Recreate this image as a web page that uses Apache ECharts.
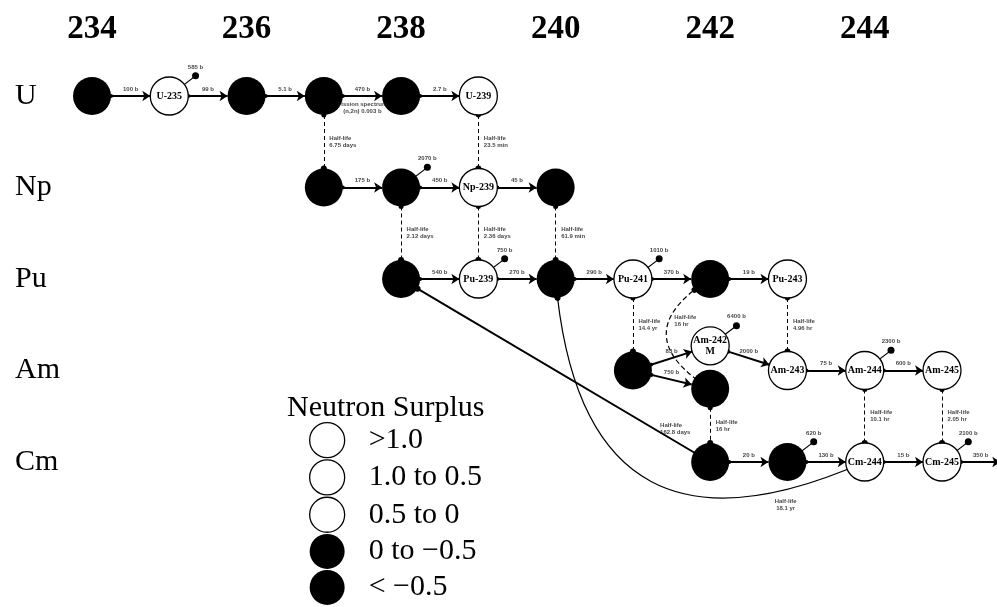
<!DOCTYPE html>
<html>
<head>
<meta charset="utf-8">
<script src="https://cdn.jsdelivr.net/npm/echarts@6/dist/echarts.min.js"></script>
<style>
  html, body { margin: 0; padding: 0; background: #fff; }
  #chart { width: 997px; height: 607px; }
</style>
</head>
<body>
<div id="chart"></div>
<script>
// Rows of the chain (one per element) and the mass-number ticks along the top
const elements = ['U', 'Np', 'Pu', 'Am', 'Cm'];
const massTicks = [234, 236, 238, 240, 242, 244];

// Neutron-surplus classes used in the key
const surplusClasses = ['>1.0', '1.0 to 0.5', '0.5 to 0', '0 to \u22120.5', '< \u22120.5'];

// Nuclides: [name, element, mass number, surplus class index]
const nuclides = [
  ['U-234', 'U', 234, 4],
  ['U-235', 'U', 235, 0],
  ['U-236', 'U', 236, 4],
  ['U-237', 'U', 237, 3],
  ['U-238', 'U', 238, 4],
  ['U-239', 'U', 239, 1],
  ['Np-237', 'Np', 237, 4],
  ['Np-238', 'Np', 238, 3],
  ['Np-239', 'Np', 239, 1],
  ['Np-240', 'Np', 240, 3],
  ['Pu-238', 'Pu', 238, 4],
  ['Pu-239', 'Pu', 239, 0],
  ['Pu-240', 'Pu', 240, 4],
  ['Pu-241', 'Pu', 241, 0],
  ['Pu-242', 'Pu', 242, 4],
  ['Pu-243', 'Pu', 243, 1],
  ['Am-241', 'Am', 241, 4],
  ['Am-242m', 'Am', 242, 0],
  ['Am-242', 'Am', 242, 3],
  ['Am-243', 'Am', 243, 2],
  ['Am-244', 'Am', 244, 1],
  ['Am-245', 'Am', 245, 2],
  ['Cm-242', 'Cm', 242, 3],
  ['Cm-243', 'Cm', 243, 3],
  ['Cm-244', 'Cm', 244, 2],
  ['Cm-245', 'Cm', 245, 0],
  ['Cm-246', 'Cm', 246, 2]
];

// Neutron captures: [from, to, cross section, extra note]
const captures = [
  ['U-234', 'U-235', '100 b'],
  ['U-235', 'U-236', '99 b'],
  ['U-236', 'U-237', '5.1 b'],
  ['U-237', 'U-238', '470 b', 'Fission spectrum\n(n,2n) 0.003 b'],
  ['U-238', 'U-239', '2.7 b'],
  ['Np-237', 'Np-238', '175 b'],
  ['Np-238', 'Np-239', '450 b'],
  ['Np-239', 'Np-240', '45 b'],
  ['Pu-238', 'Pu-239', '540 b'],
  ['Pu-239', 'Pu-240', '270 b'],
  ['Pu-240', 'Pu-241', '290 b'],
  ['Pu-241', 'Pu-242', '370 b'],
  ['Pu-242', 'Pu-243', '19 b'],
  ['Am-241', 'Am-242m', '83 b'],
  ['Am-241', 'Am-242', '750 b'],
  ['Am-242m', 'Am-243', '2000 b'],
  ['Am-243', 'Am-244', '75 b'],
  ['Am-244', 'Am-245', '600 b'],
  ['Cm-242', 'Cm-243', '20 b'],
  ['Cm-243', 'Cm-244', '130 b'],
  ['Cm-244', 'Cm-245', '15 b'],
  ['Cm-245', 'Cm-246', '350 b']
];

// Beta decays: [parent, daughter, half-life]
const betaDecays = [
  ['U-237', 'Np-237', 'Half-life\n6.75 days'],
  ['U-239', 'Np-239', 'Half-life\n23.5 min'],
  ['Np-238', 'Pu-238', 'Half-life\n2.12 days'],
  ['Np-239', 'Pu-239', 'Half-life\n2.36 days'],
  ['Np-240', 'Pu-240', 'Half-life\n61.9 min'],
  ['Pu-241', 'Am-241', 'Half-life\n14.4 yr'],
  ['Pu-243', 'Am-243', 'Half-life\n4.96 hr'],
  ['Am-242', 'Cm-242', 'Half-life\n16 hr'],
  ['Am-244', 'Cm-244', 'Half-life\n10.1 hr'],
  ['Am-245', 'Cm-245', 'Half-life\n2.05 hr']
];

// Alpha decays and electron capture: [parent, daughter, half-life]
const otherDecays = [
  ['Cm-242', 'Pu-238', 'Half-life\n162.8 days'],
  ['Cm-244', 'Pu-240', 'Half-life\n18.1 yr'],
  ['Am-242', 'Pu-242', 'Half-life\n16 hr']
];

// Fissionable nuclides with their thermal fission cross sections
const fissions = [
  ['U-235', '585 b'],
  ['Np-238', '2070 b'],
  ['Pu-239', '750 b'],
  ['Pu-241', '1010 b'],
  ['Am-242m', '6400 b'],
  ['Cm-243', '620 b'],
  ['Am-244', '2300 b'],
  ['Cm-245', '2100 b']
];

// ---------------------------------------------------------------------------
const SERIF = '"Liberation Serif", "DejaVu Serif", serif';
const TINY = { fontSize: 6, fontWeight: 'bold', fontFamily: 'Liberation Sans, sans-serif', color: '#111', lineHeight: 7 };

const whiteStyle = { color: '#fff', borderColor: '#000', borderWidth: 1.3 };
const blackStyle = { color: '#000', borderColor: '#000', borderWidth: 0 };
const classStyle = i => (i < 3 ? whiteStyle : blackStyle);

// position of each nuclide in (mass number, element row); isomer pairs split vertically
const nodePos = {};
nuclides.forEach(([name, el, A]) => {
  let row = elements.indexOf(el);
  if (name.endsWith('m')) row -= 0.27;
  else if (nuclides.some(o => o[0] === name + 'm')) row += 0.2;
  nodePos[name] = [A, row];
});

const displayName = n => (n.endsWith('m') ? n.slice(0, -1) + '\nM' : n);

const nodes = nuclides.map(([name, el, A, cls]) => ({
  name,
  value: nodePos[name],
  category: cls,
  itemStyle: classStyle(cls),
  label: cls < 3 ? {
    show: true, position: 'inside', formatter: displayName(name),
    fontSize: 10, fontWeight: 'bold', fontFamily: SERIF, color: '#000', lineHeight: 11
  } : { show: false }
}));

// small fission markers up and to the right of each fissionable nuclide
const fissionOffset = [0.34, -0.22];
fissions.forEach(([name]) => {
  const [x, y] = nodePos[name];
  nodes.push({
    name: name + ' fission',
    value: [x + fissionOffset[0], y + fissionOffset[1]],
    symbolSize: 7,
    itemStyle: { color: '#000' },
    label: { show: false }
  });
});

const curveOf = { 'Cm-244>Pu-240': 0.7, 'Am-242>Pu-242': 0.8 };

const links = [];
captures.forEach(([s, t]) => links.push({
  source: s, target: t, symbol: ['circle', 'arrow'], symbolSize: [4, 8],
  lineStyle: { width: 2, type: 'solid', color: '#000', opacity: 1 }
}));
betaDecays.forEach(([s, t]) => links.push({
  source: s, target: t, symbol: ['circle', 'circle'], symbolSize: [5, 6],
  lineStyle: { width: 1, type: [4, 3], color: '#000', opacity: 1 }
}));
otherDecays.forEach(([s, t]) => {
  const c = curveOf[s + '>' + t] || 0;
  links.push({
    source: s, target: t, symbol: ['none', 'circle'], symbolSize: [4, 6],
    lineStyle: {
      width: c ? 1.2 : 2, type: s === 'Am-242' ? [5, 3] : 'solid',
      color: '#000', opacity: 1, curveness: c
    }
  });
});
fissions.forEach(([name]) => links.push({
  source: name, target: name + ' fission', symbol: ['none', 'none'],
  lineStyle: { width: 1.2, type: 'solid', color: '#000', opacity: 1 }
}));

const chart = echarts.init(document.getElementById('chart'));

const option = {
  animation: false,
  backgroundColor: '#fff',
  title: {
    text: 'Neutron Surplus', left: 282, top: 388,
    textStyle: { fontSize: 30, fontWeight: 'normal', fontFamily: SERIF, color: '#000' }
  },
  legend: {
    orient: 'vertical', left: 309, top: 422, padding: 0,
    itemWidth: 37, itemHeight: 35, itemGap: 1,
    selectedMode: false,
    textStyle: { fontSize: 30, fontFamily: SERIF, color: '#000', padding: [0, 0, 0, 18] },
    data: surplusClasses.map((c, i) => ({ name: c, icon: 'circle', itemStyle: classStyle(i) }))
  },
  grid: { left: 92, right: 55, top: 96, bottom: 145 },
  xAxis: {
    type: 'value', position: 'top', min: 234, max: 245, interval: 2,
    axisLine: { show: false }, axisTick: { show: false }, splitLine: { show: false },
    axisLabel: {
      margin: 50, fontSize: 33, fontWeight: 'bold', fontFamily: SERIF, color: '#000',
      formatter: v => (massTicks.includes(v) ? String(v) : '')
    }
  },
  yAxis: {
    type: 'value', inverse: true, min: 0, max: 4, interval: 1,
    axisLine: { show: false }, axisTick: { show: false }, splitLine: { show: false },
    axisLabel: {
      align: 'left', margin: 77, fontSize: 30, fontFamily: SERIF, color: '#000',
      formatter: v => elements[v] || ''
    }
  },
  series: [{
    type: 'graph',
    coordinateSystem: 'cartesian2d',
    symbol: 'circle',
    symbolSize: 38,
    silent: true,
    legendHoverLink: false,
    categories: surplusClasses.map((c, i) => ({ name: c, itemStyle: classStyle(i) })),
    data: nodes,
    links: links,
    lineStyle: { color: '#000', opacity: 1 },
    emphasis: { disabled: true },
    z: 2
  }]
};
chart.setOption(option);

// ---- small annotation labels along the links ----------------------------
const toPx = p => chart.convertToPixel({ gridIndex: 0 }, p);
const toData = p => chart.convertFromPixel({ gridIndex: 0 }, p);
const mid = (a, b) => [(a[0] + b[0]) / 2, (a[1] + b[1]) / 2];

const labelPoints = [];
const addLabel = (pos, text, position, distance) => labelPoints.push({
  value: pos,
  label: { show: true, formatter: text, position, distance, ...TINY }
});

captures.forEach(([s, t, xs, note]) => {
  const m = mid(nodePos[s], nodePos[t]);
  addLabel(m, xs, 'top', 3);
  if (note) addLabel(m, note, 'bottom', 4);
});
betaDecays.forEach(([s, t, hl]) => addLabel(mid(nodePos[s], nodePos[t]), hl, 'right', 5));

// decay links may be curved: place their label on the quadratic curve
const curvePlacement = { 'Cm-242>Pu-238': [0.18, 'right'], 'Cm-244>Pu-240': [0.15, 'bottom'], 'Am-242>Pu-242': [0.62, 'right'] };
otherDecays.forEach(([s, t, hl]) => {
  const key = s + '>' + t;
  const c = curveOf[key] || 0;
  const p1 = toPx(nodePos[s]), p2 = toPx(nodePos[t]);
  const cp = [(p1[0] + p2[0]) / 2 - (p1[1] - p2[1]) * c, (p1[1] + p2[1]) / 2 - (p2[0] - p1[0]) * c];
  const [u, where] = curvePlacement[key];
  const a = (1 - u) * (1 - u), b = 2 * u * (1 - u), d = u * u;
  const pt = [a * p1[0] + b * cp[0] + d * p2[0], a * p1[1] + b * cp[1] + d * p2[1]];
  addLabel(toData(pt), hl, where, where === 'bottom' ? 8 : 5);
});
fissions.forEach(([name, xs]) => {
  const [x, y] = nodePos[name];
  addLabel([x + fissionOffset[0], y + fissionOffset[1]], xs, 'top', 5);
});

chart.setOption({
  series: [{}, {
    type: 'scatter',
    silent: true,
    clip: false,
    symbolSize: 1,
    itemStyle: { color: 'rgba(0,0,0,0)' },
    data: labelPoints,
    z: 5
  }]
});
</script>
</body>
</html>
